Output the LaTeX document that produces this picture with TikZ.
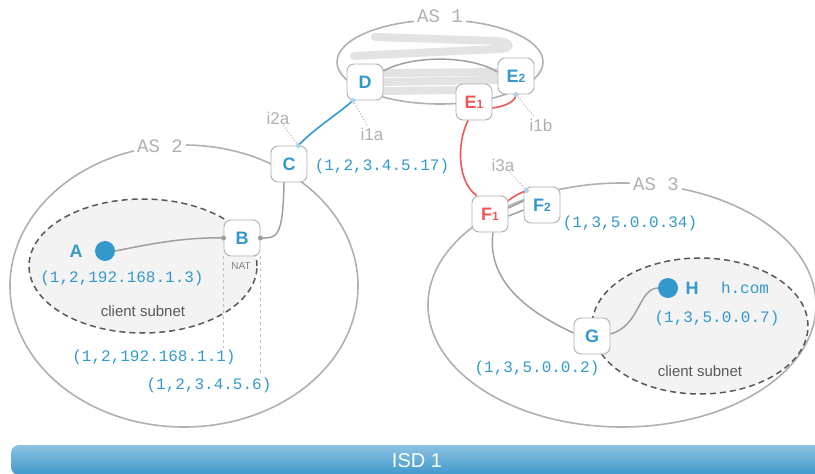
\documentclass[tikz,border=0pt]{standalone}
\usepackage{fontspec}
\setsansfont{Liberation Sans}
\setmonofont{Liberation Mono}
\usepackage{xcolor}
\usepackage{tikz}
\usetikzlibrary{calc,shapes.geometric}

\definecolor{scionblue}{HTML}{3399CC}
\definecolor{scionred}{HTML}{F25757}
\definecolor{asgray}{HTML}{B0B0B0}
\definecolor{linkgray}{HTML}{A0A0A0}
\definecolor{ifblue}{HTML}{A6D2EE}
\definecolor{subnetfill}{HTML}{F3F3F3}
\definecolor{bartop}{HTML}{8CC2E2}
\definecolor{barbottom}{HTML}{3F98CB}
\newcommand{\rsub}[1]{{\fontsize{12}{12}\selectfont #1}}

\begin{document}
\begin{tikzpicture}[x=1pt,y=-1pt,
  router/.style={draw=asgray,fill=white,rounded corners=7pt,minimum size=36pt,inner sep=0pt,line width=0.9pt,text=scionblue,font=\sffamily\bfseries\fontsize{18}{18}\selectfont},
  redrouter/.style={router,text=scionred},
  host/.style={circle,fill=scionblue,minimum size=20pt,inner sep=0pt},
  hostname/.style={text=scionblue,font=\sffamily\bfseries\fontsize{18}{18}\selectfont},
  addr/.style={text=scionblue,font=\ttfamily\fontsize{16}{16}\selectfont,inner sep=1pt},
  aslabel/.style={text=asgray,fill=white,font=\ttfamily\fontsize{19}{19}\selectfont,inner sep=3pt},
  iflabel/.style={text=asgray,font=\sffamily\fontsize{17}{17}\selectfont,inner sep=1pt},
  ifdot/.style={diamond,fill=ifblue,minimum size=6pt,inner sep=0pt},
  asline/.style={draw=asgray,line width=1.6pt},
  coil/.style={draw=black!11,line width=8pt,line cap=round},
  link/.style={draw=linkgray,line width=1.5pt},
  bluelink/.style={draw=scionblue,line width=1.6pt},
  redlink/.style={draw=scionred,line width=1.6pt},
  leader/.style={draw=asgray,dotted,line width=1pt},
  natline/.style={draw=asgray!80,dashed,line width=0.8pt},
  subnet/.style={draw=black!65,fill=subnetfill,dash pattern=on 6pt off 4pt,line width=1.5pt},
  subnetlabel/.style={text=black!65,font=\sffamily\fontsize{15}{15}\selectfont}
]
\clip (0,0) rectangle (815,474);

% autonomous systems
\draw[asline] (440,62) ellipse [x radius=103pt, y radius=42pt];
\draw[asline] (184,286) ellipse [x radius=174pt, y radius=141pt];
\draw[asline] (622,305) ellipse [x radius=194pt, y radius=122pt];
\draw[coil] (375,37) -- (498,41) .. controls (512,42) and (512,49) .. (498,49) -- (354,56);
\draw[coil] (383,73) -- (503,72);
\draw[coil] (383,82) -- (497,80);
\draw[coil] (383,91) -- (457,90);

% client subnets
\draw[subnet] (143,266) ellipse [x radius=114pt, y radius=67pt];
\draw[subnet] (700,326) ellipse [x radius=108pt, y radius=68pt];
\node[subnetlabel] (sub2) at (143,311) {client subnet};
\node[subnetlabel] (sub3) at (700,371) {client subnet};

\node[aslabel] (as1) at (440,16) {AS 1};
\node[aslabel] (as2) at (160,146) {AS 2};
\node[aslabel] (as3) at (656,184) {AS 3};

% routers and hosts
\node[router] (D) at (365,82) {D};
\node[router] (E2) at (516,76) {E\rsub{2}};
\node[redrouter] (E1) at (474,102) {E\rsub{1}};
\node[router] (C) at (289,164) {C};
\node[router] (B) at (242,238) {B};
\node[redrouter] (F1) at (490,214) {F\rsub{1}};
\node[router] (F2) at (542,205) {F\rsub{2}};
\node[router] (G) at (592,336) {G};
\node[host] (A) at (105,251) {};
\node[host] (H) at (668,288) {};
\node[hostname] (Alabel) at (76,251) {A};
\node[hostname] (Hlabel) at (692,288) {H};
\node[font=\sffamily\fontsize{10}{10}\selectfont,text=black!50] (nat) at (241,266) {NAT};

\coordinate (i2a) at ($(C.north)!0.5!(C.north east)$);
\coordinate (i1a) at ($(D.south)+(-12,0)$);
\coordinate (i1b) at (E2.south);
\coordinate (i3a) at ($(F2.north west)+(3,4)$);

% links
\draw[link] ($(D.east)+(0,-11)$) .. controls (412,55) and (470,55) .. ($(E2.west)+(0,-4)$);
\draw[bluelink] (i2a) .. controls (315,128) and (338,114) .. (i1a);
\draw[redlink] ($(E1.east)+(0,6)$) .. controls (506,106) and (515,102) .. (i1b);
\draw[redlink] ($(E1.south)+(-6,0)$) .. controls (456,145) and (458,182) .. ($(F1.north west)+(5,0)$);
\draw[redlink] ($(F1.north east)+(0,5)$) .. controls (514,196) and (520,193) .. (i3a);
\draw[link] ($(F1.east)+(0,-6)$) -- ($(F2.west)+(0,-4)$);
\draw[link] ($(F1.east)+(0,2)$) -- ($(F2.west)+(0,5)$);
\draw[link] ($(F1.south)+(3,0)$) .. controls (486,285) and (535,315) .. ($(G.west)+(0,-3)$);
\draw[link] ($(G.east)+(0,-2)$) .. controls (640,326) and (638,289) .. (H.west);
\draw[link] (A.east) .. controls (150,244) and (185,237) .. (B.west);
\draw[link] ($(C.south)+(-5,0)$) .. controls (283,240) and (276,238) .. (B.east);
\fill[linkgray] (B.west) circle (2.5pt) (B.east) circle (2.5pt);

% interfaces
\node[iflabel] (i2alabel) at (278,118) {i2a};
\node[iflabel] (i1alabel) at (372,134) {i1a};
\node[iflabel] (i1blabel) at (541,125) {i1b};
\node[iflabel] (i3alabel) at (503,165) {i3a};
\draw[leader] (i2a) -- (i2alabel);
\draw[leader] (i1a) -- (i1alabel);
\draw[leader] (i1b) -- (i1blabel);
\draw[leader] (i3a) -- (i3alabel);
\foreach \p in {i2a,i1a,i1b,i3a}
  \node[ifdot] at (\p) {};

% addresses
\node[addr] (Caddr) at (382,166) {(1,2,3.4.5.17)};
\node[addr] (Aaddr) at (122,278) {(1,2,192.168.1.3)};
\node[addr] (Baddr1) at (154,357) {(1,2,192.168.1.1)};
\node[addr] (Baddr2) at (209,385) {(1,2,3.4.5.6)};
\node[addr] (F2addr) at (630,223) {(1,3,5.0.0.34)};
\node[addr] (Haddr) at (717,318) {(1,3,5.0.0.7)};
\node[addr] (Gaddr) at (537,368) {(1,3,5.0.0.2)};
\node[addr] (hcom) at (745,288) {h.com};
\draw[natline] (B.south west) -- (B.south west |- Baddr1.north);
\draw[natline] (B.south east) -- (B.south east |- Baddr2.north);

% isolation domain
\shade[top color=bartop,bottom color=barbottom,rounded corners=8pt] (11,445) rectangle (840,475);
\node[font=\sffamily\fontsize{20}{20}\selectfont,text=white] (isd) at (417,461) {ISD 1};
\end{tikzpicture}
\end{document}
